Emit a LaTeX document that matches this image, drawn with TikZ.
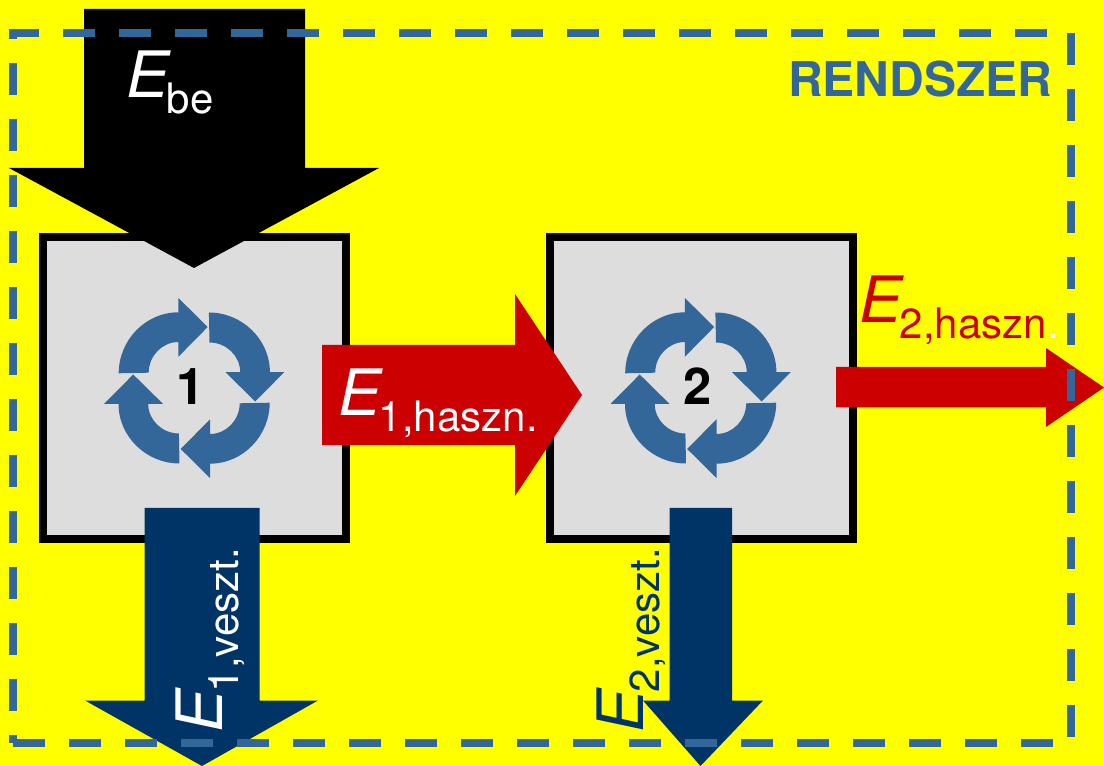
\documentclass[tikz,border=0pt]{standalone}
\usepackage{fontspec}
\setmainfont{TeX Gyre Heros}
\definecolor{bgyellow}{RGB}{255,255,0}
\definecolor{sysblue}{HTML}{336699}
\definecolor{lossblue}{HTML}{003366}
\definecolor{usered}{HTML}{CC0000}
\definecolor{boxgray}{HTML}{DDDDDD}
\newcommand{\enrg}[2]{{\fontsize{48}{48}\selectfont\itshape E}\kern-1.5pt\raisebox{-12pt}{\fontsize{31.5}{32}\selectfont #1}#2}
\newcommand{\cyc}[3]{%
  \foreach \a in {0,90,180,270}{
    \fill[cycarrow,shift={(#1,#2)},rotate=\a]
      (-75.5,-14.7) .. controls (-75.5,-47.7) and (-48.8,-75.7) .. (-15.8,-75.7)
      -- (-15.8,-90) -- (13.5,-61) -- (-15.8,-31.3) -- (-15.8,-46)
      .. controls (-32.3,-46) and (-45.5,-31.8) .. (-45.5,-15.3) -- cycle;
  }
  \node[numlabel] (#3) at (#1,#2) {};
}
\tikzset{
  x=0.75pt,y=-0.75pt,
  procbox/.style={draw=black,line width=6pt,fill=boxgray,inner sep=0pt,minimum width=227pt,minimum height=226.5pt},
  cycarrow/.style={fill=sysblue},
  numlabel/.style={inner sep=0pt},
  lbl/.style={inner sep=0pt,anchor=base west},
  num/.style={inner sep=0pt,anchor=base,font=\fontsize{38}{38}\selectfont\bfseries},
  border/.style={draw=sysblue,line width=6pt,dash pattern=on 24pt off 18pt},
}
\begin{document}
\begin{tikzpicture}
\useasboundingbox (0,0) rectangle (1104,766);
\fill[bgyellow] (0,0) rectangle (1104,766);
% process boxes
\node[procbox] (box1) at (194.6,388) {};
\node[procbox] (box2) at (701.5,388) {};
% cycle symbols
\cyc{194.2}{388}{c1}
\cyc{700.7}{388}{c2}
\node[num] (n1) at (190.5,404.5) {1};
\node[num] (n2) at (697.5,404.5) {2};
% energy arrows
\fill[black] (84,9) -- (305,9) -- (305,168) -- (379,168) -- (194,268) -- (9,168) -- (84,168) -- cycle;
\fill[usered] (322,345) -- (515,345) -- (515,294) -- (582,395) -- (515,496) -- (515,445) -- (322,445) -- cycle;
\fill[usered] (836,367) -- (1046,367) -- (1046,348) -- (1104,387.5) -- (1046,427) -- (1046,407.5) -- (836,407.5) -- cycle;
\fill[lossblue] (144.5,508) -- (259.5,508) -- (259.5,700.5) -- (318,700.5) -- (202,766) -- (85,700.5) -- (144.5,700.5) -- cycle;
\fill[lossblue] (669.5,508) -- (732,508) -- (732,700.5) -- (763,700.5) -- (700.5,766) -- (643,700.5) -- (669.5,700.5) -- cycle;
% labels
\node[lbl,text=white] (ebe) at (126,98) {\enrg{be}{}};
\node[lbl,text=white] (e1h) at (338,416) {\enrg{1,haszn.}{}};
\node[lbl,text=usered] (e2h) at (859,323) {\enrg{2,haszn}{\raisebox{-12pt}{\fontsize{31.5}{32}\selectfont\color{white}.}}};
\node[lbl,text=white,rotate=90] (e1v) at (222,733) {\enrg{1,veszt.}{}};
\node[lbl,text=lossblue,rotate=90] (e2v) at (643,733) {\enrg{2,veszt.}{}};
\node[lbl,text=sysblue,font=\fontsize{36}{36}\selectfont\bfseries] (sys) at (788,97) {RENDSZER};
% system boundary
\coordinate (bl) at (13,743);
\coordinate (br) at (1071,743);
\coordinate (tr) at (1071,33);
\coordinate (tl) at (13,33);
\draw[border] (bl) -- (br) -- (tr) -- (tl) -- (bl);
\end{tikzpicture}
\end{document}
